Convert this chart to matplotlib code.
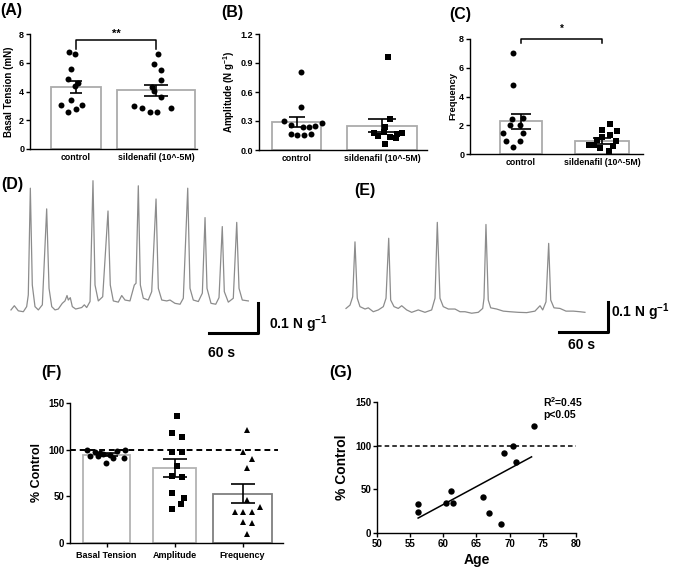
import numpy as np
import matplotlib
matplotlib.use('Agg')
import matplotlib.pyplot as plt

plt.rcParams['font.family'] = ['Liberation Sans', 'DejaVu Sans']
plt.rcParams['font.weight'] = 'bold'
plt.rcParams['axes.labelweight'] = 'bold'
plt.rcParams['mathtext.fontset'] = 'custom'
plt.rcParams['mathtext.rm'] = 'Liberation Sans:bold'
plt.rcParams['mathtext.bf'] = 'Liberation Sans:bold'
plt.rcParams['axes.linewidth'] = 1.0

# ---- data ----
groups = ['control', 'sildenafil (10^-5M)']

# (A) basal tension (mN)
bt_ctrl = [6.77, 6.61, 5.55, 4.85, 4.57, 4.38, 3.41, 3.06, 3.06, 2.76, 2.6]
bt_sild = [6.61, 5.92, 5.5, 4.8, 4.3, 4.06, 3.6, 2.98, 2.88, 2.6, 2.6, 2.88]
bt_mean = [4.3, 4.07]
bt_sem = [0.42, 0.40]

# (B) amplitude (N/g)
amp_ctrl = [0.81, 0.44, 0.30, 0.28, 0.26, 0.24, 0.24, 0.25, 0.17, 0.155, 0.155, 0.17]
amp_sild = [0.96, 0.32, 0.24, 0.18, 0.18, 0.14, 0.13, 0.12, 0.06, 0.17, 0.19]
amp_mean = [0.294, 0.249]
amp_sem = [0.052, 0.067]

# (C) frequency
fr_ctrl = [7.05, 4.8, 2.43, 2.5, 2.03, 2.03, 1.45, 1.45, 0.88, 0.88, 0.46]
fr_sild = [2.08, 1.7, 1.57, 1.33, 1.18, 0.99, 0.88, 0.65, 0.6, 0.53, 0.42, 0.18]
fr_mean = [2.27, 0.92]
fr_sem = [0.53, 0.2]

# (D) control trace: time (s), force (N/g)
t_d = [1.2, 5.3, 10.2, 16.3, 20.4, 22.4, 24.9, 27.3, 30.6, 34.7, 39.6, 44.9, 47.8, 51.1,
       55.1, 59.1, 64.0, 67.3, 69.8, 71.4, 73.8, 76.3, 80.4, 87.8, 91.0, 93.9, 98.0, 101.6,
       104.1, 108.1, 113.5, 120.0, 122.8, 126.5, 132.6, 136.8, 140.8, 146.9, 152.2, 154.3,
       157.1, 159.6, 163.2, 169.3, 173.5, 178.8, 181.6, 185.8, 191.9, 195.9, 202.0, 208.2,
       212.2, 217.6, 220.4, 224.4, 230.6, 235.5, 238.8, 241.2, 246.1, 251.9, 255.9, 259.9,
       262.4, 267.3, 273.4, 277.6, 280.4, 284.4, 291.8]
f_d = [0.010, 0.024, 0.007, 0.004, 0.021, 0.060, 0.416, 0.093, 0.021, 0.010, 0.027, 0.347,
       0.082, 0.021, 0.010, 0.013, 0.032, 0.040, 0.058, 0.043, 0.051, 0.021, 0.013, 0.018,
       0.027, 0.018, 0.038, 0.441, 0.093, 0.040, 0.054, 0.340, 0.093, 0.040, 0.036, 0.058,
       0.043, 0.040, 0.093, 0.099, 0.424, 0.093, 0.049, 0.043, 0.071, 0.380, 0.082, 0.043,
       0.040, 0.043, 0.032, 0.029, 0.049, 0.416, 0.082, 0.043, 0.038, 0.066, 0.318, 0.082,
       0.032, 0.029, 0.051, 0.288, 0.071, 0.036, 0.049, 0.302, 0.082, 0.043, 0.040]

# (E) sildenafil trace
t_e = [0, 4.9, 8.2, 11.0, 13.8, 17.1, 23.3, 27.3, 33.4, 39.6, 45.7, 49.0, 52.3, 54.7, 58.8,
       64.0, 68.2, 74.3, 80.4, 88.5, 96.7, 104.9, 109.0, 111.8, 115.1, 119.1, 125.3, 133.5,
       139.6, 145.7, 153.9, 162.0, 167.4, 169.0, 171.4, 174.2, 177.2, 184.5, 192.6, 200.8,
       211.0, 221.3, 231.4, 237.6, 240.9, 244.9, 248.2, 250.7, 254.7, 262.0, 269.4, 278.3,
       286.5, 292.6]
f_e = [0.012, 0.023, 0.051, 0.234, 0.046, 0.018, 0.010, 0.014, 0.001, 0.007, 0.018, 0.046,
       0.246, 0.040, 0.018, 0.012, 0.021, 0.007, -0.001, 0.007, -0.001, 0.007, 0.046, 0.299,
       0.046, 0.018, 0.010, 0.010, 0.001, 0.001, -0.004, -0.001, 0.012, 0.046, 0.292, 0.040,
       0.014, 0.010, 0.003, 0.001, -0.001, -0.002, 0.003, 0.021, 0.007, 0.034, 0.229, 0.040,
       0.014, 0.012, 0.003, 0.003, 0.001, -0.001]

# (F) % control
pc_labels = ['Basal Tension', 'Amplitude', 'Frequency']
pc_basal = [100, 98, 96, 86, 91, 91, 100, 99, 94, 93, 93, 95]
pc_amp = [136, 118, 114, 97, 97, 83, 71, 72, 54, 48, 42, 36]
pc_freq = [121, 97, 90, 80, 46, 39, 33, 33, 33, 22, 21, 10]
pc_mean = [94.6, 80.4, 53]
pc_sem = [1.7, 9.7, 10]

# (G) frequency % control vs age
age = [56.2, 56.2, 60.4, 61.1, 61.5, 66.0, 66.9, 68.7, 69.1, 70.5, 71.0, 73.6]
freq_pc = [33.4, 23.9, 34.2, 48.6, 34.2, 41.0, 22.4, 9.9, 91.9, 99.1, 81.7, 122.7]

# jitter of the scatter dots (x offsets, in bar units)
jit_bt = [[-0.09, -0.01, -0.06, -0.10, 0.03, -0.01, -0.06, -0.19, 0.075, 0.0, -0.10],
          [0.02, -0.03, 0.06, 0.06, -0.05, -0.02, 0.06, -0.28, -0.18, -0.075, 0.01, 0.19]]
jit_amp = [[0.053, 0.053, -0.146, 0.30, -0.064, 0.08, 0.15, 0.216, -0.068, 0.01, 0.088, 0.166],
           [0.074, 0.094, 0.035, -0.094, 0.23, -0.043, 0.094, 0.16, 0.035, 0.18, 0.02]]
jit_fr = [[-0.095, -0.095, -0.115, 0.03, -0.012, -0.136, -0.22, 0.03, -0.18, -0.012, -0.10],
          [0.10, 0.0, 0.19, 0.10, 0.0, -0.065, 0.17, -0.16, -0.10, 0.14, -0.025, 0.09]]
jit_pc = [[-0.28, -0.17, -0.095, -0.007, 0.10, 0.26, 0.27, 0.15, 0.05, -0.25, -0.13, -0.05],
          [0.03, -0.03, 0.11, -0.03, 0.11, 0.03, 0.11, -0.03, -0.03, 0.14, 0.095, -0.03],
          [0.07, 0.01, 0.135, 0.07, 0.07, 0.26, -0.11, 0.01, 0.135, 0.01, 0.135, 0.07]]

W, H = 675, 569
fig = plt.figure(figsize=(W / 100, H / 100), dpi=100)


def px_axes(l, t, r, b):
    return fig.add_axes([l / W, 1 - b / H, (r - l) / W, (b - t) / H])


def prism(ax, fs, xfs):
    ax.spines['top'].set_visible(False)
    ax.spines['right'].set_visible(False)
    ax.tick_params(axis='y', direction='out', length=3, width=1, labelsize=fs, pad=1.2)
    ax.tick_params(axis='x', direction='out', length=0, labelsize=xfs, pad=3)


def bar_panel(ax, l, r, centers, widths, means, sems, caps, edges, pts, jits, markers):
    unit = centers[1] - centers[0]
    ax.set_xlim(-(centers[0] - l) / unit, (r - centers[0]) / unit)
    pos = np.arange(len(means))
    for i in pos:
        ax.bar(i, means[i], width=widths[i] / unit, facecolor='white',
               edgecolor=edges[i], linewidth=1.3, zorder=1)
        ax.plot(i + np.array(jits[i]), pts[i], markers[i], color='black', ms=4.3,
                markeredgewidth=0, clip_on=False, zorder=3)
        ax.errorbar(i, means[i], yerr=sems[i], fmt='none', ecolor='black',
                    elinewidth=1.2, capsize=caps[i], capthick=1.2, zorder=4)
    ax.set_xticks(pos)


def ylabel_px(ax, centre_offset, font_px, l, r):
    # right edge of the rotated label sits half a line from its centre
    ax.yaxis.set_label_coords((centre_offset + font_px / 2) / (r - l), 0.5)


# (A)
axA = px_axes(30, 34, 197, 149)
prism(axA, 6.5, 6.3)
bar_panel(axA, 30, 197, [76, 156], [50, 78], bt_mean, bt_sem, [4.3, 8.3],
          ['#ababab', '#ababab'], [bt_ctrl, bt_sild], jit_bt, ['o', 'o'])
axA.set_ylim(0, 8)
axA.set_yticks([0, 2, 4, 6, 8])
axA.set_xticklabels(groups)
axA.set_ylabel('Basal Tension (mN)', fontsize=7)
ylabel_px(axA, -20, 8, 30, 197)
axA.plot([0, 0, 1, 1], [6.95, 7.6, 7.6, 6.95], color='black', lw=1.1, clip_on=False)
axA.text(0.5, 7.65, '**', ha='center', va='bottom', fontsize=8)

# (B)
axB = px_axes(259, 34, 427, 150)
prism(axB, 6.5, 6.3)
bar_panel(axB, 259, 427, [296.5, 382], [49, 70], amp_mean, amp_sem, [6.1, 10],
          ['#ababab', '#ababab'], [amp_ctrl, amp_sild], jit_amp, ['o', 's'])
axB.set_ylim(0, 1.2)
axB.set_yticks([0, 0.3, 0.6, 0.9, 1.2])
axB.set_yticklabels(['0.0', '0.3', '0.6', '0.9', '1.2'])
axB.set_xticklabels(groups)
axB.set_ylabel(r'Amplitude (N g$^{\mathbf{-1}}$)', fontsize=7)
ylabel_px(axB, -26, 8, 259, 427)

# (C)
axC = px_axes(470, 39, 643, 154)
prism(axC, 6.5, 6.3)
bar_panel(axC, 470, 643, [521, 602], [42, 54], fr_mean, fr_sem, [7.2, 6.8],
          ['#ababab', '#ababab'], [fr_ctrl, fr_sild], jit_fr, ['o', 's'])
axC.set_ylim(0, 8)
axC.set_yticks([0, 2, 4, 6, 8])
axC.set_xticklabels(groups)
axC.set_ylabel('Frequency', fontsize=6.8)
ylabel_px(axC, -17, 8, 470, 643)
axC.plot([0, 0, 1, 1], [7.7, 8.0, 8.0, 7.7], color='black', lw=1.1, clip_on=False)
axC.text(0.5, 8.35, '*', ha='center', va='bottom', fontsize=7)

# (D) trace, 60 s / 0.1 N g-1 scale bar
axD = px_axes(10, 175, 330, 360)
axD.plot(t_d, f_d, color='#8c8c8c', lw=0.9)
axD.plot([243.7, 303.7, 303.7], [-0.067, -0.067, 0.033], color='black', lw=2.2)
axD.text(317, -0.037, r'0.1 N g$^{\mathbf{-1}}$', ha='left', va='center', fontsize=10)
axD.text(259.6, -0.132, '60 s', ha='center', va='center', fontsize=10)
axD.set_xlim(0, 391.8)
axD.set_ylim(-0.157, 0.46)
axD.axis('off')

# (E) trace
axE = px_axes(340, 175, 675, 360)
axE.plot(t_e, f_e, color='#8c8c8c', lw=0.9)
axE.plot([260.8, 320.8, 320.8], [-0.067, -0.067, 0.033], color='black', lw=2.2)
axE.text(324.5, 0.0, r'0.1 N g$^{\mathbf{-1}}$', ha='left', va='center', fontsize=10)
axE.text(288.7, -0.110, '60 s', ha='center', va='center', fontsize=10)
axE.set_xlim(-7.35, 402.9)
axE.set_ylim(-0.16, 0.457)
axE.axis('off')

# (F)
axF = px_axes(70, 403, 283, 543)
prism(axF, 7, 6.5)
bar_panel(axF, 70, 283, [106.5, 174.5, 242.5], [47, 43, 59], pc_mean, pc_sem, [8, 8.3, 8.3],
          ['#b3b3b3', '#b3b3b3', '#7f7f7f'], [pc_basal, pc_amp, pc_freq], jit_pc, ['o', 's', '^'])
axF.set_ylim(0, 150)
axF.set_yticks([0, 50, 100, 150])
axF.set_xticklabels(pc_labels)
axF.tick_params(axis='x', length=3, width=1, pad=2.5)
axF.axhline(100, xmin=0, xmax=(278 - 70) / (283 - 70), color='black', lw=1.4,
            ls=(0, (3, 2)), zorder=5)
axF.set_ylabel('% Control', fontsize=9)
ylabel_px(axF, -32, 11, 70, 283)

# (G)
axG = px_axes(377, 402, 576, 533)
prism(axG, 7, 7)
axG.tick_params(axis='x', direction='out', length=3, width=1, labelsize=7, pad=1.5)
axG.plot(age, freq_pc, 'o', color='black', ms=4.6, markeredgewidth=0, clip_on=False, zorder=3)
slope, icpt = np.polyfit(age, freq_pc, 1)
xfit = np.array([min(age), 73.3])
axG.plot(xfit, slope * xfit + icpt, color='black', lw=1.1)
axG.axhline(100, color='black', lw=1.1, ls=(0, (3, 2)))
axG.set_xlim(50, 80)
axG.set_ylim(0, 150)
axG.set_xticks([50, 55, 60, 65, 70, 75, 80])
axG.set_yticks([0, 50, 100, 150])
axG.set_xlabel('Age', fontsize=10)
axG.set_ylabel('% Control', fontsize=10)
ylabel_px(axG, -34, 12, 377, 576)
axG.xaxis.set_label_coords(0.5, -20 / (533 - 402))
fig.text(543 / W, 1 - 395 / H, r'R$^{\mathbf{2}}$=0.45' + '\np<0.05', fontsize=7.5,
         ha='left', va='top', linespacing=1.1)

# panel letters
for lab, x, y in [('(A)', 0, 11), ('(B)', 221, 12), ('(C)', 449, 14), ('(D)', 1, 184),
                  ('(E)', 354, 191), ('(F)', 41, 373), ('(G)', 329, 373)]:
    fig.text(x / W, 1 - y / H, lab, fontsize=11.5, fontweight='bold', ha='left', va='center')

fig.savefig('out.png', dpi=100)
